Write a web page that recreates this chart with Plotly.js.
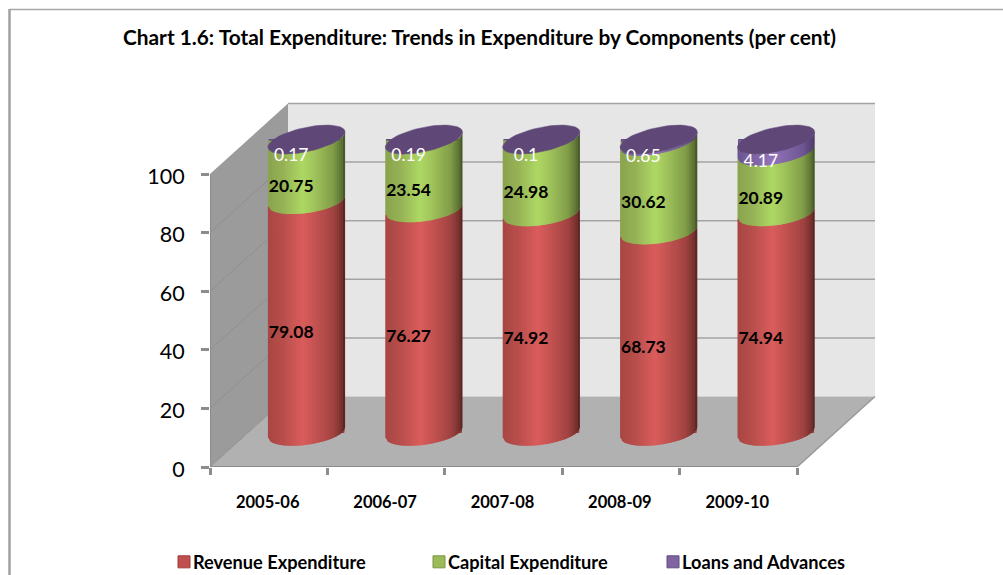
<!DOCTYPE html>
<html>
<head>
<meta charset="utf-8">
<script src="https://cdn.plot.ly/plotly-3.0.1.min.js"></script>
<style>
html,body{margin:0;padding:0;background:#fff;overflow:hidden}
/* Keep legend text close to its swatch */
.legendtext,.legend2text,.legend3text{transform:translateX(-11px)}
</style>
</head>
<body>
<div id="chart" style="width:1003px;height:575px"></div>
<script>
// Share of total expenditure by component, per cent
const years = ['2005-06', '2006-07', '2007-08', '2008-09', '2009-10'];
const revenueExpenditure = [79.08, 76.27, 74.92, 68.73, 74.94];
const capitalExpenditure = [20.75, 23.54, 24.98, 30.62, 20.89];
const loansAndAdvances = [0.17, 0.19, 0.1, 0.65, 4.17];
const seriesNames = ['Revenue Expenditure', 'Capital Expenditure', 'Loans and Advances'];
const seriesValues = [revenueExpenditure, capitalExpenditure, loansAndAdvances];
const yTicks = [0, 20, 40, 60, 80, 100];

// Horizontal shading of each cylinder: [position across the width, colour]
const shading = [
  [[-1, [168, 70, 67]], [-0.6, [184, 78, 75]], [-0.1, [218, 93, 92]], [0.2, [198, 84, 82]], [0.7, [160, 67, 65]], [0.92, [118, 48, 46]], [1, [78, 32, 30]]],
  [[-1, [138, 163, 78]], [-0.6, [150, 178, 85]], [-0.1, [174, 216, 100]], [0.2, [160, 196, 92]], [0.7, [128, 156, 72]], [0.92, [90, 112, 51]], [1, [62, 78, 36]]],
  [[-1, [108, 85, 144]], [-0.1, [146, 115, 186]], [0.7, [110, 86, 146]], [1, [76, 58, 104]]]
];
const capColour = '#5f4878';
const swatchColours = ['#c0504d', '#9bbb59', '#8064a2'];
const swatchEdges = ['#9a3d3a', '#7b9544', '#5f4a7c'];
const legendLeft = [164, 419, 653];

// Scale of the oblique drawing, in screen pixels
const plotL = 210, plotR = 876, plotT = 100, plotB = 467;
const pxPerCat = 117.4, pxPerUnit = 2.93;
const xRange = [-0.5, -0.5 + (plotR - plotL) / pxPerCat];
const yRange = [0, (plotB - plotT) / pxPerUnit];
const depthX = 78 / pxPerCat, depthY = 70.5 / pxPerUnit;   // front plane to back wall
const barShiftX = 37.8 / pxPerCat, barShiftY = 34.5 / pxPerUnit; // bars stand mid-depth
const radius = 38.6 / pxPerCat, ellipseB = 12.3 / pxPerUnit;
const labelDX = -15.3 / pxPerCat, labelDY = -17.3 / pxPerUnit;

const skew = level => (5 + 2.5 * Math.max(0, (level - 90) / 10)) / pxPerUnit;
const arc = (level, u, side) =>
  level + barShiftY - side * ellipseB * Math.sqrt(Math.max(0, 1 - u * u)) + skew(level) * u;

function shade(stops, u) {
  for (let i = 1; i < stops.length; i++) {
    if (u <= stops[i][0]) {
      const f = (u - stops[i - 1][0]) / (stops[i][0] - stops[i - 1][0]);
      const c = stops[i - 1][1].map((v, k) => Math.round(v + f * (stops[i][1][k] - v)));
      return 'rgb(' + c.join(',') + ')';
    }
  }
  return 'rgb(' + stops[stops.length - 1][1].join(',') + ')';
}

// Running bottom and top of every segment
const lows = [], highs = [];
seriesValues.forEach((vals, s) => {
  lows.push(vals.map((_, i) => s === 0 ? 0 : highs[s - 1][i]));
  highs.push(vals.map((v, i) => lows[s][i] + v));
});

const traces = [];

// Stacked bars carrying the values and the legend entries
seriesValues.forEach((vals, s) => {
  traces.push({
    type: 'bar', name: seriesNames[s],
    x: years.map((_, i) => i + barShiftX),
    y: vals,
    base: lows[s].map(v => v + barShiftY),
    width: 75 / pxPerCat,
    marker: { color: swatchColours[s], line: { color: swatchEdges[s], width: 1 } },
    legend: s === 0 ? 'legend' : 'legend' + (s + 1),
    hoverinfo: 'name+y'
  });
});

// Rounded faces of the cylinders, built as thin overlapping vertical strips
const strips = 38;
seriesValues.forEach((vals, s) => {
  for (let k = 0; k < strips; k++) {
    const u0 = -1 + 2 * k / strips;
    const u1 = Math.min(1, -1 + 2 * (k + 1.6) / strips);
    const xs = [], ys = [];
    vals.forEach((_, i) => {
      const cx = i + barShiftX;
      const a = cx + u0 * radius, b = cx + u1 * radius;
      xs.push(a, b, b, a, a, null);
      ys.push(arc(lows[s][i], u0, 1), arc(lows[s][i], u1, 1),
              arc(highs[s][i], u1, 1), arc(highs[s][i], u0, 1),
              arc(lows[s][i], u0, 1), null);
    });
    const col = shade(shading[s], -1 + 2 * (k + 0.5) / strips);
    traces.push({
      type: 'scatter', mode: 'lines', x: xs, y: ys, fill: 'toself', fillcolor: col,
      line: { color: col, width: 0 }, showlegend: false, hoverinfo: 'skip'
    });
  }
});

// Flat top of each cylinder
const capX = [], capY = [];
years.forEach((_, i) => {
  const cx = i + barShiftX, top = highs[2][i];
  for (let a = 0; a <= 64; a++) {
    const u = Math.cos(2 * Math.PI * a / 64);
    capX.push(cx + u * radius);
    capY.push(arc(top, u, a <= 32 ? -1 : 1));
  }
  capX.push(null); capY.push(null);
});
traces.push({
  type: 'scatter', mode: 'lines', x: capX, y: capY, fill: 'toself', fillcolor: capColour,
  line: { color: capColour, width: 0.5 }, showlegend: false, hoverinfo: 'skip'
});

// Value labels
const labelColours = ['#000000', '#000000', '#ffffff'];
seriesValues.forEach((vals, s) => {
  traces.push({
    type: 'scatter', mode: 'text',
    x: years.map((_, i) => i + barShiftX + labelDX),
    y: vals.map((v, i) => lows[s][i] + v / 2 + barShiftY + labelDY),
    text: vals.map(String), textposition: 'middle center',
    textfont: { family: 'Lato', size: 17.5, color: labelColours[s], weight: s < 2 ? 700 : 400 },
    showlegend: false, hoverinfo: 'skip'
  });
});

// Chart frame, walls, floor and gridlines
const axisGrey = '#8c8c8c';
const paperX = px => (px - plotL) / (plotR - plotL);
const paperY = py => (plotB - py) / (plotB - plotT);
const poly = (pts, fill) => ({
  type: 'path', xref: 'x', yref: 'y', layer: 'below', fillcolor: fill, line: { width: 0 },
  path: pts.map((p, i) => (i ? 'L' : 'M') + p[0] + ',' + p[1]).join(' ') + ' Z'
});
const seg = (x0, y0, x1, y1, color, width) => ({
  type: 'line', xref: 'x', yref: 'y', layer: 'below', x0, y0, x1, y1, line: { color, width }
});
const xF0 = xRange[0], xF1 = xF0 + 5, xB0 = xF0 + depthX, xB1 = xF1 + depthX;
const shapes = [
  poly([[xB0, depthY], [xB1, depthY], [xB1, 100 + depthY], [xB0, 100 + depthY]], '#e6e6e6'),
  poly([[xF0, 0], [xB0, depthY], [xB0, 100 + depthY], [xF0, 100]], '#9b9b9b'),
  poly([[xF0, 0], [xF1, 0], [xB1, depthY], [xB0, depthY]], '#b1b1b1')
];
yTicks.forEach(v => {
  if (v > 0) shapes.push(seg(xB0, v + depthY, xB1, v + depthY, '#a3a3a3', 1.5));
  if (v > 0 && v < 100) shapes.push(seg(xF0, v, xB0, v + depthY, '#8f8f8f', 1));
});
shapes.push(
  seg(xF0, 0, xB0, depthY, '#8f8f8f', 1),
  seg(xF1, 0, xB1, depthY, '#9a9a9a', 1.5),
  seg(xF0, 0, xF1, 0, axisGrey, 2),
  seg(xF0, 0, xF0, 100, axisGrey, 2),
  { type: 'line', xref: 'paper', yref: 'paper', x0: paperX(9.5), x1: paperX(1003), y0: paperY(9.5), y1: paperY(9.5), line: { color: '#a6a6a6', width: 1.5 } },
  { type: 'line', xref: 'paper', yref: 'paper', x0: paperX(9.5), x1: paperX(9.5), y0: paperY(9), y1: paperY(575), line: { color: '#a0a0a0', width: 2.5 } }
);

const legendFont = { family: 'Lato', size: 18.2, color: '#000', weight: 700 };
const legendBox = i => ({
  x: paperX(legendLeft[i]), y: paperY(562), xanchor: 'left', yanchor: 'middle',
  bgcolor: 'rgba(0,0,0,0)', borderwidth: 0, font: legendFont, itemclick: false, itemdoubleclick: false
});

const layout = {
  width: 1003, height: 575,
  paper_bgcolor: '#fff', plot_bgcolor: 'rgba(0,0,0,0)',
  margin: { l: plotL, r: 1003 - plotR, t: plotT, b: 575 - plotB, pad: 0, autoexpand: false },
  barmode: 'overlay',
  title: {
    text: 'Chart 1.6: Total Expenditure: Trends in Expenditure by Components (per cent)',
    x: 123 / 1003, xanchor: 'left', y: 1 - 38 / 575, yanchor: 'middle',
    font: { family: 'Lato', size: 20.85, color: '#000', weight: 700 }
  },
  xaxis: {
    range: xRange, fixedrange: true, showgrid: false, zeroline: false, showline: false,
    tickmode: 'array', tickvals: years.map((_, i) => i), ticktext: years, ticks: '',
    ticklabelstandoff: 23, ticklabelshift: -1,
    tickfont: { family: 'Lato', size: 16.5, color: '#000', weight: 700 },
    minor: {
      tickmode: 'array', tickvals: [0, 1, 2, 3, 4, 5].map(v => v - 0.5),
      ticks: 'outside', ticklen: 7, tickwidth: 2.5, tickcolor: axisGrey, showgrid: false
    }
  },
  yaxis: {
    range: yRange, fixedrange: true, showgrid: false, zeroline: false, showline: false,
    tickmode: 'array', tickvals: yTicks, ticktext: yTicks.map(String),
    ticks: 'outside', ticklen: 8, tickwidth: 2.5, tickcolor: axisGrey,
    ticklabelstandoff: 12, ticklabelshift: 2,
    tickfont: { family: 'Lato', size: 21.5, color: '#000' }
  },
  legend: legendBox(0), legend2: legendBox(1), legend3: legendBox(2),
  shapes: shapes,
  showlegend: true
};

Plotly.newPlot('chart', traces, layout, { displayModeBar: false });
</script>
</body>
</html>
